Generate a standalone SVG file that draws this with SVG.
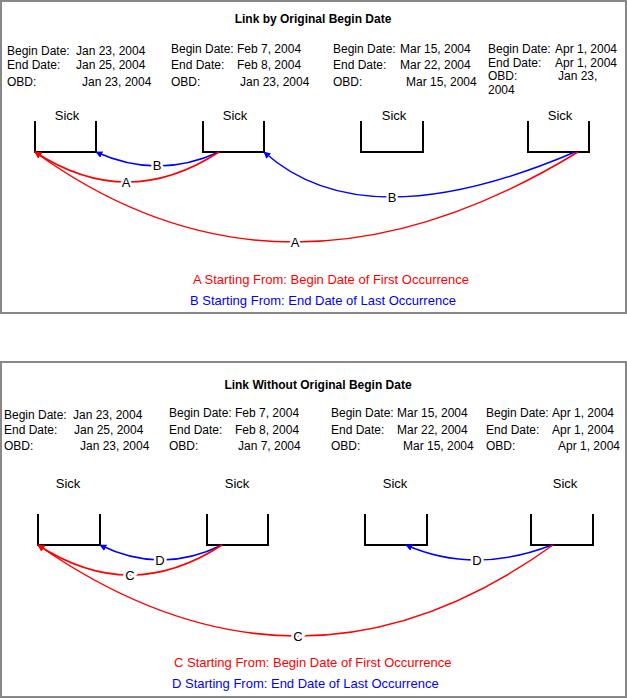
<svg xmlns="http://www.w3.org/2000/svg" width="627" height="699" viewBox="0 0 627 699">
<defs>
<style>
text{font-family:"Liberation Sans",Arial,sans-serif;font-size:12px;fill:#000}
.t{font-weight:bold}
.frame{fill:#fff;stroke:#888;stroke-width:2}
.box{fill:none;stroke:#000;stroke-width:2}
.r{fill:none;stroke:#f00;stroke-width:1.5}
.b{fill:none;stroke:#00f;stroke-width:1.5}
.lbl{text-anchor:middle;stroke:#fff;stroke-width:5;paint-order:stroke}
.rt{fill:#f00;font-size:13px}.bt{fill:#00f;font-size:13px}
.m{text-anchor:middle}
.s{font-size:13px}
</style>
<marker id="ar" viewBox="0 0 10 10" refX="9" refY="5" markerWidth="7" markerHeight="7" orient="auto" markerUnits="userSpaceOnUse"><path d="M0,0L10,5L0,10z" fill="#f00"/></marker>
<marker id="ab" viewBox="0 0 10 10" refX="9" refY="5" markerWidth="7" markerHeight="7" orient="auto" markerUnits="userSpaceOnUse"><path d="M0,0L10,5L0,10z" fill="#00f"/></marker>
</defs>
<rect width="627" height="699" fill="#fff"/>
<g id="panel1">
<rect class="frame" x="1" y="1" width="625" height="312"/>
<text class="t m" x="313" y="23">Link by Original Begin Date</text>
<text x="7" y="55">Begin Date:</text><text x="76" y="55">Jan 23, 2004</text>
<text x="7" y="69">End Date:</text><text x="76" y="69">Jan 25, 2004</text>
<text x="7" y="86">OBD:</text><text x="82" y="86">Jan 23, 2004</text>
<text x="171" y="53">Begin Date:</text><text x="237" y="53">Feb 7, 2004</text>
<text x="171" y="69">End Date:</text><text x="237" y="69">Feb 8, 2004</text>
<text x="171" y="86">OBD:</text><text x="240" y="86">Jan 23, 2004</text>
<text x="333" y="53">Begin Date:</text><text x="400" y="53">Mar 15, 2004</text>
<text x="333" y="69">End Date:</text><text x="400" y="69">Mar 22, 2004</text>
<text x="333" y="86">OBD:</text><text x="406" y="86">Mar 15, 2004</text>
<text x="488" y="53">Begin Date:</text><text x="555" y="53">Apr 1, 2004</text>
<text x="488" y="67">End Date:</text><text x="555" y="67">Apr 1, 2004</text>
<text x="488" y="80">OBD:</text><text x="558" y="80">Jan 23,</text>
<text x="488" y="94">2004</text>
</g>
<g id="t-sick1"><text class="m s" x="67" y="120">Sick</text><path class="box" d="M35,121V152H96V121"/></g>
<g id="t-sick2"><text class="m s" x="235" y="120">Sick</text><path class="box" d="M203,121V152H264V121"/></g>
<g id="t-sick3"><text class="m s" x="394" y="120">Sick</text><path class="box" d="M361,121V152H423V121"/></g>
<g id="t-sick4"><text class="m s" x="560" y="120">Sick</text><path class="box" d="M528,121V152H589V121"/></g>
<g id="connectors1">
<path class="b" d="M219,152Q158,180 96,152" marker-end="url(#ab)"/>
<path class="r" d="M219,152Q127,212 35,152" marker-end="url(#ar)"/>
<path class="b" d="M575,152Q364,242 264,152" marker-end="url(#ab)"/>
<path class="r" d="M578,152Q283,332 35,152" marker-end="url(#ar)"/>
<text class="lbl s" x="157" y="170">B</text>
<text class="lbl s" x="126" y="187">A</text>
<text class="lbl s" x="392" y="202">B</text>
<text class="lbl s" x="295" y="247">A</text>
</g>
<g id="legend1">
<text class="rt" x="193" y="284">A  Starting From: Begin Date of First Occurrence</text>
<text class="bt" x="190" y="305">B  Starting From: End Date of Last Occurrence</text>
</g>
<g id="panel2">
<rect class="frame" x="1" y="362" width="625" height="335"/>
<text class="t m" x="318" y="389">Link Without Original Begin Date</text>
<text x="4" y="419">Begin Date:</text><text x="73" y="419">Jan 23, 2004</text>
<text x="4" y="434">End Date:</text><text x="74" y="434">Jan 25, 2004</text>
<text x="4" y="450">OBD:</text><text x="80" y="450">Jan 23, 2004</text>
<text x="169" y="417">Begin Date:</text><text x="235" y="417">Feb 7, 2004</text>
<text x="169" y="434">End Date:</text><text x="235" y="434">Feb 8, 2004</text>
<text x="169" y="450">OBD:</text><text x="238" y="450">Jan 7, 2004</text>
<text x="331" y="417">Begin Date:</text><text x="397" y="417">Mar 15, 2004</text>
<text x="331" y="434">End Date:</text><text x="397" y="434">Mar 22, 2004</text>
<text x="331" y="450">OBD:</text><text x="403" y="450">Mar 15, 2004</text>
<text x="486" y="417">Begin Date:</text><text x="552" y="417">Apr 1, 2004</text>
<text x="486" y="434">End Date:</text><text x="552" y="434">Apr 1, 2004</text>
<text x="486" y="450">OBD:</text><text x="558" y="450">Apr 1, 2004</text>
</g>
<g id="b-sick1"><text class="m s" x="68" y="488">Sick</text><path class="box" d="M38,514V545H100V514"/></g>
<g id="b-sick2"><text class="m s" x="237" y="488">Sick</text><path class="box" d="M207,514V545H268V514"/></g>
<g id="b-sick3"><text class="m s" x="395" y="488">Sick</text><path class="box" d="M365,514V545H427V514"/></g>
<g id="b-sick4"><text class="m s" x="565" y="488">Sick</text><path class="box" d="M531,514V545H593V514"/></g>
<g id="connectors2">
<path class="b" d="M222,545Q161,575 100,545" marker-end="url(#ab)"/>
<path class="r" d="M222,545Q130,605 38,545" marker-end="url(#ar)"/>
<path class="b" d="M552,545Q474,575 406,545" marker-end="url(#ab)"/>
<path class="r" d="M553,545Q300,727 38,545" marker-end="url(#ar)"/>
<text class="lbl s" x="160" y="565">D</text>
<text class="lbl s" x="130" y="580">C</text>
<text class="lbl s" x="477" y="565">D</text>
<text class="lbl s" x="298" y="641">C</text>
</g>
<g id="legend2">
<text class="rt" x="174" y="667">C Starting From: Begin Date of First Occurrence</text>
<text class="bt" x="172" y="688">D Starting From: End Date of Last Occurrence</text>
</g>
</svg>
